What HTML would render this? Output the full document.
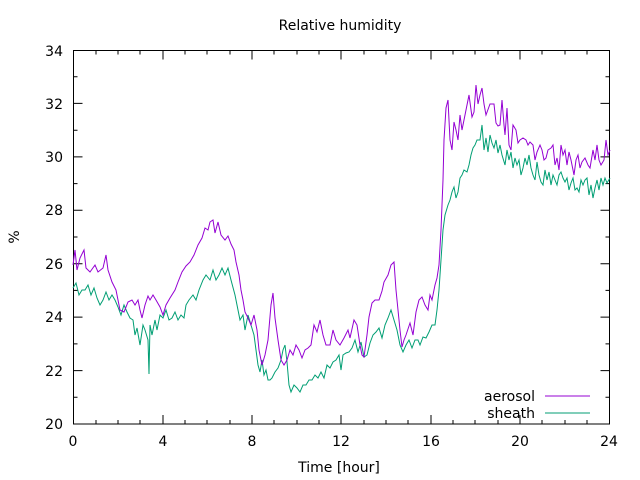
<!DOCTYPE html>
<html><head><meta charset="utf-8"><style>html,body{margin:0;padding:0;background:#fff}svg{display:block}</style></head><body>
<svg width="640" height="480" xmlns="http://www.w3.org/2000/svg" font-family="'DejaVu Sans','Liberation Sans',sans-serif" font-size="14">
<rect width="640" height="480" fill="#fff"/>
<g stroke="#000" stroke-width="1" fill="none">
<rect x="73.5" y="50.5" width="536" height="373.5"/>
<path d="M73.5 424h9M73.5 370.6h9M73.5 317.1h9M73.5 263.7h9M73.5 210.3h9M73.5 156.9h9M73.5 103.4h9M73.5 50.5h9M609.5 424h-9M609.5 370.6h-9M609.5 317.1h-9M609.5 263.7h-9M609.5 210.3h-9M609.5 156.9h-9M609.5 103.4h-9
M73.5 397.3h4M73.5 343.9h4M73.5 290.4h4M73.5 237h4M73.5 183.6h4M73.5 130.2h4M73.5 76.7h4M609.5 397.3h-4M609.5 343.9h-4M609.5 290.4h-4M609.5 237h-4M609.5 183.6h-4M609.5 130.2h-4M609.5 76.7h-4"/>
<path d="M163 424v-9M252 424v-9M341 424v-9M431 424v-9M520 424v-9M163 50.5v9M252 50.5v9M341 50.5v9M431 50.5v9M520 50.5v9
M96 424v-4M118 424v-4M140 424v-4M185 424v-4M207 424v-4M230 424v-4M274 424v-4M297 424v-4M319 424v-4M364 424v-4M386 424v-4M408 424v-4M453 424v-4M475 424v-4M498 424v-4M542 424v-4M565 424v-4M587 424v-4
M96 50.5v4M118 50.5v4M140 50.5v4M185 50.5v4M207 50.5v4M230 50.5v4M274 50.5v4M297 50.5v4M319 50.5v4M364 50.5v4M386 50.5v4M408 50.5v4M453 50.5v4M475 50.5v4M498 50.5v4M542 50.5v4M565 50.5v4M587 50.5v4"/>
</g>
<g text-anchor="end" fill="#000">
<text x="63" y="429">20</text><text x="63" y="376">22</text><text x="63" y="322">24</text><text x="63" y="269">26</text><text x="63" y="215">28</text><text x="63" y="162">30</text><text x="63" y="109">32</text><text x="63" y="56">34</text>
</g>
<g text-anchor="middle" fill="#000">
<text x="73" y="446">0</text><text x="163" y="446">4</text><text x="252" y="446">8</text><text x="341" y="446">12</text><text x="431" y="446">16</text><text x="520" y="446">20</text><text x="609" y="446">24</text>
<text x="339" y="472">Time [hour]</text>
<text x="340" y="30">Relative humidity</text>
<text transform="translate(19,237) rotate(-90)">%</text>
</g>
<g text-anchor="end" fill="#000"><text x="535" y="401">aerosol</text><text x="535" y="418">sheath</text></g>
<path d="M545 396h45" stroke="#9400d3"/><path d="M545 413h45" stroke="#009e73"/>
<polyline fill="none" stroke="#009e73" stroke-width="1" points="73,288 76,283 79,295 82,290 85,290 88,285 91,295 94,288 97,298 100,305 103,300 106,292 109,300 112,295 115,300 118,307 121,315 124,305 127,312 130,318 133,320 135,335 137,328 140,345 143,325 145,330 148,340 149,374 150,325 152,335 155,320 157,330 160,315 163,318 166,310 169,320 172,318 175,312 178,320 181,315 184,318 186,305 189,300 193,295 196,300 199,290 203,280 206,275 210,280 213,270 216,280 219,275 222,268 225,275 228,268 231,280 235,295 238,310 240,320 243,315 245,330 248,315 251,325 254,335 256,350 258,365 260,372 262,360 264,375 266,370 268,380 270,380 272,378 275,372 278,368 281,360 283,350 285,345 287,362 289,385 291,392 294,385 297,388 300,392 303,385 306,385 309,380 312,380 315,375 318,378 321,372 324,378 327,365 330,368 333,362 336,360 339,355 341,370 343,355 346,353 349,352 352,348 355,340 358,352 361,342 364,357 367,355 370,343 373,335 376,332 379,328 382,338 385,325 388,318 391,310 394,320 397,330 400,345 403,352 406,345 409,340 412,348 415,340 418,340 420,345 423,337 426,338 429,332 432,325 435,325 437,310 439,290 441,260 443,230 445,215 448,205 450,200 452,192 454,187 456,198 458,192 460,178 462,175 464,170 467,172 469,165 471,155 473,148 475,145 477,140 480,140 482,125 484,150 486,138 488,152 490,135 492,143 494,148 496,140 498,153 500,145 502,155 505,165 507,150 509,160 511,152 513,168 515,158 517,165 519,160 521,175 523,168 525,158 527,165 529,155 531,168 533,175 535,180 537,162 539,175 541,182 543,185 545,170 547,180 549,172 551,185 553,175 555,180 557,185 559,175 561,172 563,178 565,182 567,178 569,190 571,183 573,178 575,190 577,188 579,192 581,180 583,185 585,180 587,178 589,195 591,185 593,198 595,188 597,180 599,190 601,178 603,185 605,178 607,183 610,178"/>
<polyline fill="none" stroke="#9400d3" stroke-width="1" points="73,265 75,250 77,270 80,258 84,250 86,268 90,272 95,265 98,272 103,268 106,255 108,270 112,282 116,290 118,300 120,310 124,312 128,302 132,300 135,305 138,300 140,310 142,318 145,305 148,296 150,300 153,295 156,300 160,307 163,315 166,305 170,298 175,290 178,282 182,272 186,266 190,262 194,255 198,245 202,238 205,228 208,230 210,222 213,220 215,233 218,222 221,235 225,240 228,236 231,244 234,250 236,262 239,275 241,290 243,300 245,312 248,318 251,325 254,315 257,330 259,350 262,365 265,355 268,340 271,305 273,293 275,318 278,340 281,360 284,365 287,360 290,350 293,355 296,345 299,350 302,358 305,350 308,348 311,345 314,325 317,332 320,320 323,335 326,345 330,345 333,330 336,340 340,345 344,338 348,330 350,338 354,320 357,325 360,345 362,355 364,357 367,335 369,317 372,303 375,300 379,300 382,291 384,282 388,275 391,265 394,262 396,290 398,310 400,330 402,347 404,340 406,335 410,323 413,335 416,312 419,300 422,297 425,305 428,310 430,295 432,300 435,285 437,278 439,265 441,230 443,180 444,140 446,108 448,100 450,140 452,150 454,122 456,130 458,140 460,115 462,130 464,120 466,110 469,95 472,117 474,112 476,85 478,104 480,95 482,88 484,104 486,115 490,104 494,104 496,123 498,126 500,125 502,100 504,125 505,135 507,108 509,145 511,150 513,125 516,130 518,143 520,140 523,138 526,140 528,145 530,142 533,145 535,160 537,152 540,145 542,150 544,160 546,158 548,150 551,148 553,145 555,165 557,158 559,170 561,145 563,155 565,150 567,165 569,152 571,160 574,175 576,160 578,155 580,168 582,162 585,158 588,165 590,168 593,150 595,160 597,145 599,160 601,165 604,160 606,140 608,155 610,150"/>
</svg>
</body></html>
